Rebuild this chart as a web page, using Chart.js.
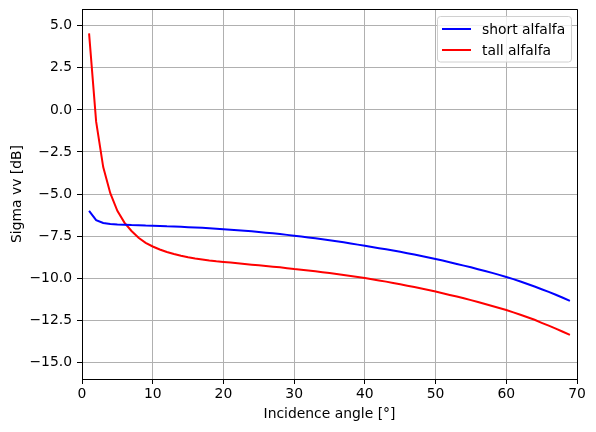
<!DOCTYPE html>
<html>
<head>
<meta charset="utf-8">
<script src="https://cdn.jsdelivr.net/npm/chart.js@4.4.1/dist/chart.umd.min.js"></script>
<style>
  html, body { margin: 0; padding: 0; background: #fff; }
  #wrap { width: 596px; height: 432px; }
</style>
</head>
<body>
<div id="wrap"><canvas id="myChart" width="596" height="432"></canvas></div>
<script>
// incidence angle in degrees
const angles = [];
for (let a = 1; a <= 69; a++) angles.push(a);

const shortAlfalfa = [
  -6.0, -6.55, -6.72, -6.78, -6.81, -6.83, -6.85, -6.86, -6.88, -6.89,
  -6.9, -6.92, -6.93, -6.95, -6.97, -6.99, -7.01, -7.04, -7.07, -7.1,
  -7.13, -7.16, -7.19, -7.22, -7.26, -7.3, -7.34, -7.38, -7.43, -7.48,
  -7.53, -7.58, -7.63, -7.69, -7.75, -7.81, -7.87, -7.94, -8.01, -8.08,
  -8.15, -8.22, -8.29, -8.36, -8.44, -8.52, -8.6, -8.69, -8.78, -8.87,
  -8.96, -9.06, -9.16, -9.26, -9.36, -9.47, -9.58, -9.69, -9.81, -9.93,
  -10.06, -10.2, -10.35, -10.5, -10.66, -10.82, -10.99, -11.17, -11.36
];

const tallAlfalfa = [
  4.55, -0.7, -3.4, -4.95, -6.0, -6.7, -7.2, -7.6, -7.9, -8.12,
  -8.3, -8.45, -8.57, -8.67, -8.76, -8.83, -8.89, -8.95, -9.0, -9.04,
  -9.08, -9.12, -9.16, -9.2, -9.24, -9.28, -9.32, -9.36, -9.41, -9.46,
  -9.5, -9.55, -9.6, -9.65, -9.7, -9.76, -9.82, -9.88, -9.94, -10.0,
  -10.07, -10.14, -10.21, -10.29, -10.37, -10.45, -10.53, -10.62, -10.71, -10.8,
  -10.9, -11.0, -11.1, -11.2, -11.31, -11.42, -11.54, -11.66, -11.78, -11.9,
  -12.04, -12.18, -12.33, -12.48, -12.66, -12.83, -13.0, -13.19, -13.38
];

const seriesNames = ["short alfalfa", "tall alfalfa"];
const seriesColors = ["#0000ff", "#ff0000"];
const yTicks = [-15, -12.5, -10, -7.5, -5, -2.5, 0, 2.5, 5];

const FONT = "'DejaVu Sans', sans-serif";
const FS = 13.9;

function toPoints(ys) {
  return angles.map((a, i) => ({ x: a, y: ys[i] }));
}

// top + right frame, and the legend box inside the axes
const framePlugin = {
  id: "frame",
  afterDraw(chart) {
    const ctx = chart.ctx;
    const a = chart.chartArea;
    ctx.save();
    ctx.strokeStyle = "#000";
    ctx.lineWidth = 1;
    ctx.beginPath();
    ctx.moveTo(a.left, a.top + 0.5);
    ctx.lineTo(a.right + 0.5, a.top + 0.5);
    ctx.lineTo(a.right + 0.5, a.bottom);
    ctx.stroke();

    // legend
    const bx = 437.5, by = 16.5, bw = 134, bh = 45.5, r = 3;
    ctx.fillStyle = "rgba(255,255,255,0.8)";
    ctx.strokeStyle = "#d0d0d0";
    ctx.beginPath();
    ctx.moveTo(bx + r, by);
    ctx.lineTo(bx + bw - r, by);
    ctx.quadraticCurveTo(bx + bw, by, bx + bw, by + r);
    ctx.lineTo(bx + bw, by + bh - r);
    ctx.quadraticCurveTo(bx + bw, by + bh, bx + bw - r, by + bh);
    ctx.lineTo(bx + r, by + bh);
    ctx.quadraticCurveTo(bx, by + bh, bx, by + bh - r);
    ctx.lineTo(bx, by + r);
    ctx.quadraticCurveTo(bx, by, bx + r, by);
    ctx.closePath();
    ctx.fill();
    ctx.stroke();

    ctx.font = FS + "px " + FONT;
    ctx.textBaseline = "middle";
    ctx.textAlign = "left";
    seriesNames.forEach((name, i) => {
      const y = 29 + i * 21;
      ctx.strokeStyle = seriesColors[i];
      ctx.lineWidth = 2;
      ctx.beginPath();
      ctx.moveTo(442, y);
      ctx.lineTo(471, y);
      ctx.stroke();
      ctx.fillStyle = "#000";
      ctx.fillText(name, 482, y + 1);
    });
    ctx.restore();
  }
};

const data = {
  datasets: seriesNames.map((name, i) => ({
    label: name,
    data: toPoints(i === 0 ? shortAlfalfa : tallAlfalfa),
    borderColor: seriesColors[i],
    backgroundColor: seriesColors[i],
    borderWidth: 2,
    pointRadius: 0,
    tension: 0,
    fill: false
  }))
};

const config = {
  type: "line",
  data: data,
  options: {
    responsive: false,
    animation: false,
    layout: { padding: { left: 0, right: 19, top: 9, bottom: 0 } },
    plugins: {
      legend: { display: false },
      tooltip: { enabled: false }
    },
    scales: {
      x: {
        type: "linear",
        min: 0,
        max: 70,
        ticks: {
          stepSize: 10,
          color: "#000",
          font: { family: FONT, size: FS },
          padding: 2,
          maxRotation: 0
        },
        grid: { color: "#b0b0b0", lineWidth: 1, tickColor: "#000", tickLength: 5 },
        border: { display: true, color: "#000", width: 1 },
        title: {
          display: true,
          text: "Incidence angle [°]",
          color: "#000",
          font: { family: FONT, size: FS },
          padding: { top: 0, bottom: 9 }
        },
        afterFit(scale) {
          scale.height = 53;
          scale.paddingLeft = 0;
          scale.paddingRight = 0;
        }
      },
      y: {
        type: "linear",
        min: -16,
        max: 6,
        afterBuildTicks(scale) {
          scale.ticks = yTicks.map(v => ({ value: v }));
        },
        ticks: {
          color: "#000",
          font: { family: FONT, size: FS },
          padding: 5,
          callback: v => v.toFixed(1).replace("-", "\u2212")
        },
        grid: { color: "#b0b0b0", lineWidth: 1, tickColor: "#000", tickLength: 5 },
        border: { display: true, color: "#000", width: 1 },
        title: {
          display: true,
          text: "Sigma vv [dB]",
          color: "#000",
          font: { family: FONT, size: FS },
          padding: { top: 9, bottom: 0 }
        },
        afterFit(scale) {
          scale.width = 82;
          scale.paddingTop = 0;
          scale.paddingBottom = 0;
        }
      }
    }
  },
  plugins: [framePlugin]
};

const ctx = document.getElementById("myChart").getContext("2d");
new Chart(ctx, config);
</script>
</body>
</html>
